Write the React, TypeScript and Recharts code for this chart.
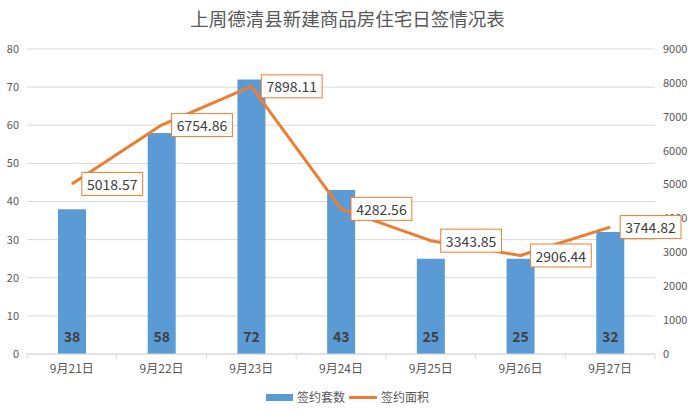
import React from "react";
import {
  ComposedChart,
  Bar,
  Line,
  XAxis,
  YAxis,
  CartesianGrid,
  LabelList,
} from "recharts";

const days = ["9月21日", "9月22日", "9月23日", "9月24日", "9月25日", "9月26日", "9月27日"];
const units = [38, 58, 72, 43, 25, 25, 32];
const areas = [5018.57, 6754.86, 7898.11, 4282.56, 3343.85, 2906.44, 3744.82];
const leftTicks = [0, 10, 20, 30, 40, 50, 60, 70, 80];
const rightTicks = [0, 1000, 2000, 3000, 4000, 5000, 6000, 7000, 8000, 9000];

const data = days.map((day, i) => ({ day, units: units[i], area: areas[i] }));

const FONT = '"Noto Sans CJK SC", "Noto Sans", sans-serif';
const BLUE = "#5B9BD5";
const ORANGE = "#ED7D31";
const TEXT = "#595959";
const GRID = "#D9D9D9";

function textWidth(s: string, fs: number) {
  let w = 0;
  for (const c of s) w += c === "." ? 0.27 * fs : 0.572 * fs;
  return w;
}

// boxed value label to the right of each line point
function AreaLabel(props: any) {
  const { x, y, value } = props;
  if (x == null || y == null) return null;
  const fs = 14;
  const txt = Number(value).toFixed(2);
  const w = textWidth(txt, fs) + 9;
  const h = 23;
  const left = x + 10;
  return (
    <g>
      <rect x={left} y={y - h / 2} width={w} height={h} fill="#fff" stroke={ORANGE} strokeWidth={1} />
      <text
        x={left + w / 2}
        y={y}
        textAnchor="middle"
        dominantBaseline="central"
        fontSize={fs}
        fontFamily={FONT}
        fill="#404040"
      >
        {txt}
      </text>
    </g>
  );
}

// category label plus Excel-style tick marks at the band edges
function DayTick(props: any) {
  const { x, y, payload, index } = props;
  const half = payload.offset || 0;
  return (
    <g>
      <line x1={x - half} x2={x - half} y1={y} y2={y + 5} stroke={GRID} />
      {index === days.length - 1 && (
        <line x1={x + half} x2={x + half} y1={y} y2={y + 5} stroke={GRID} />
      )}
      <text x={x} y={y + 19} textAnchor="middle" fontSize={12} fontFamily={FONT} fill={TEXT}>
        {payload.value}
      </text>
    </g>
  );
}

export default function App() {
  return (
    <div style={{ position: "absolute", left: 0, top: 0, width: 695, height: 415, background: "#fff" }}>
      <div
        style={{
          position: "absolute",
          top: 5,
          left: 0,
          width: 695,
          textAlign: "center",
          fontFamily: FONT,
          fontSize: 18.5,
          color: TEXT,
          lineHeight: "26px",
        }}
      >
        上周德清县新建商品房住宅日签情况表
      </div>
      <ComposedChart
        width={695}
        height={415}
        data={data}
        margin={{ top: 49, right: 0, bottom: 31, left: 0 }}
      >
        <CartesianGrid yAxisId="left" vertical={false} stroke={GRID} />
        <XAxis
          dataKey="day"
          interval={0}
          height={30}
          tickSize={0}
          tickMargin={0}
          axisLine={{ stroke: GRID }}
          tickLine={false}
          tick={<DayTick />}
        />
        <YAxis
          yAxisId="left"
          domain={[0, 80]}
          ticks={leftTicks}
          width={27}
          axisLine={false}
          tickLine={false}
          tick={{ fill: TEXT, fontSize: 11, fontFamily: FONT }}
        />
        <YAxis
          yAxisId="right"
          orientation="right"
          domain={[0, 9000]}
          ticks={rightTicks}
          width={40}
          axisLine={false}
          tickLine={false}
          tick={{ fill: TEXT, fontSize: 11, fontFamily: FONT }}
        />
        <Bar
          yAxisId="left"
          dataKey="units"
          name="签约套数"
          fill={BLUE}
          barSize={28}
          isAnimationActive={false}
        >
          <LabelList
            dataKey="units"
            position="insideBottom"
            offset={12}
            fill="#404040"
            fontSize={14}
            fontWeight="bold"
            fontFamily={FONT}
          />
        </Bar>
        <Line
          yAxisId="right"
          dataKey="area"
          name="签约面积"
          type="linear"
          stroke={ORANGE}
          strokeWidth={3}
          strokeLinejoin="round"
          dot={false}
          activeDot={false}
          isAnimationActive={false}
        >
          <LabelList dataKey="area" content={<AreaLabel />} />
        </Line>
      </ComposedChart>
      <div
        style={{
          position: "absolute",
          top: 388,
          left: 0,
          width: 695,
          display: "flex",
          justifyContent: "center",
          alignItems: "center",
          fontFamily: FONT,
          fontSize: 12,
          color: TEXT,
          lineHeight: "18px",
        }}
      >
        <span style={{ display: "inline-block", width: 27, height: 7, background: BLUE, marginRight: 4 }} />
        <span style={{ marginRight: 4 }}>签约套数</span>
        <span style={{ display: "inline-block", width: 28, height: 3, background: ORANGE, marginRight: 4 }} />
        <span>签约面积</span>
      </div>
    </div>
  );
}
